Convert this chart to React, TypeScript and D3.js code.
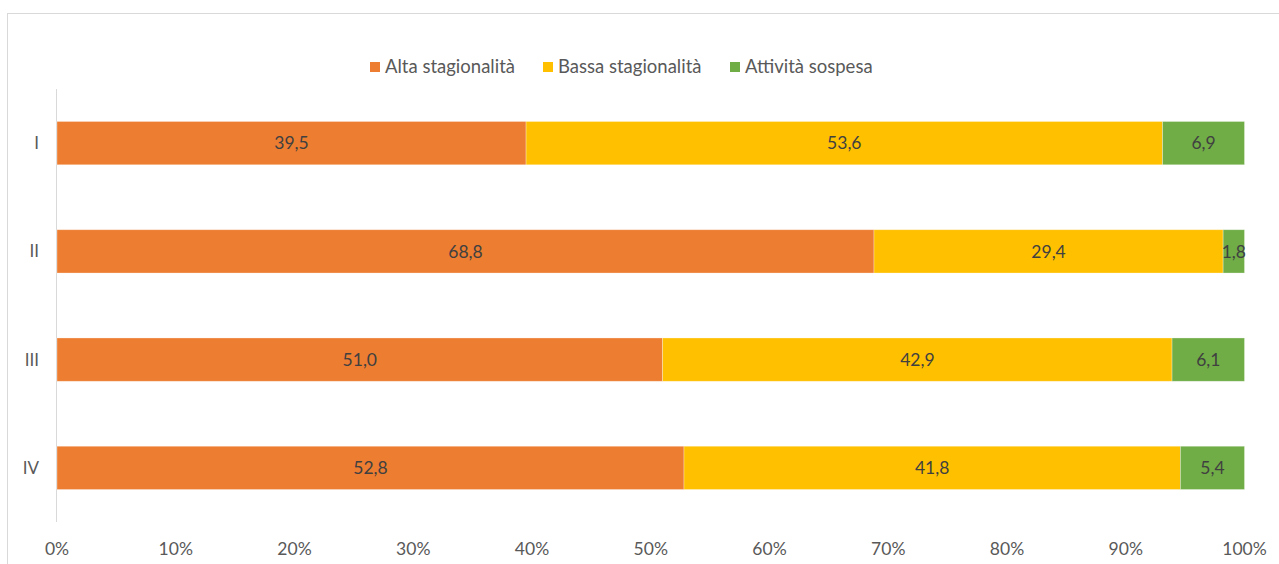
import React from "react";
import * as d3 from "d3";

const categories = ["I", "II", "III", "IV"];
const seriesNames = ["Alta stagionalità", "Bassa stagionalità", "Attività sospesa"];
const seriesColors = ["#ED7D31", "#FFC000", "#70AD47"];
const alta = [39.5, 68.8, 51.0, 52.8];
const bassa = [53.6, 29.4, 42.9, 41.8];
const sospesa = [6.9, 1.8, 6.1, 5.4];
const xTicks = [0, 10, 20, 30, 40, 50, 60, 70, 80, 90, 100];

const W = 1279;
const H = 564;
const FONT = "Lato, 'Open Sans', sans-serif";

export default function App() {
  const x = d3.scaleLinear().domain([0, 100]).range([57, 1244.5]);
  const y = d3.scaleBand<string>().domain(categories).range([89, 522]).paddingInner(0.6).paddingOuter(0.3);
  const series = [alta, bassa, sospesa];
  const stacked = categories.map((c, i) => {
    let acc = 0;
    return series.map((s, k) => {
      const x0 = acc;
      acc += s[i];
      return { k, x0, x1: acc, v: s[i], c };
    });
  });
  const legendX = [370, 543, 730];
  return (
    <svg width={W} height={H} style={{ position: "absolute", left: 0, top: 0, background: "#fff" }} fontFamily={FONT}>
      <rect x={7.5} y={13.5} width={W + 10} height={H + 10} fill="#fff" stroke="#d9d9d9" strokeWidth={1} />
      {seriesNames.map((n, k) => (
        <g key={n}>
          <rect x={legendX[k]} y={62} width={10} height={10} fill={seriesColors[k]} />
          <text x={legendX[k] + 15} y={73} fontSize={18.5} fill="#595959">{n}</text>
        </g>
      ))}
      <line x1={56.5} x2={56.5} y1={89} y2={522} stroke="#d9d9d9" strokeWidth={1} />
      {stacked.map((row, i) => (
        <g key={categories[i]}>
          {row.map((d) => (
            <g key={d.k}>
              <rect
                x={x(d.x0)}
                y={y(d.c)!}
                width={x(d.x1) - x(d.x0)}
                height={y.bandwidth()}
                fill={seriesColors[d.k]}
                stroke="#ffffff"
                strokeOpacity={0.4}
                strokeWidth={0.75}
              />
              <text
                x={(x(d.x0) + x(Math.min(d.x1, 100))) / 2}
                y={y(d.c)! + y.bandwidth() / 2}
                dy="0.35em"
                textAnchor="middle"
                fontSize={17.5}
                fill="#404040"
              >
                {d.v.toFixed(1).replace(".", ",")}
              </text>
            </g>
          ))}
          <text x={39} y={y(categories[i])! + y.bandwidth() / 2} dy="0.35em" textAnchor="end" fontSize={17} fill="#595959">
            {categories[i]}
          </text>
        </g>
      ))}
      {xTicks.map((t) => (
        <text key={t} x={x(t)} y={555} textAnchor="middle" fontSize={17.5} fill="#595959">
          {t}%
        </text>
      ))}
    </svg>
  );
}
